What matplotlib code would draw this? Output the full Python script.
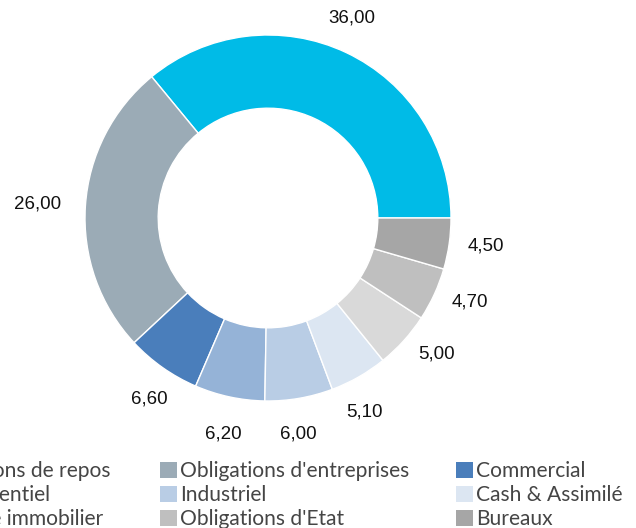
import numpy as np
import matplotlib
matplotlib.use('Agg')
import matplotlib.pyplot as plt
from matplotlib.patches import Patch

categories = ['Maisons de repos', "Obligations d'entreprises", 'Commercial',
              'Résidentiel', 'Industriel', 'Cash & Assimilé',
              'Autre immobilier', "Obligations d'Etat", 'Bureaux']
values = [36.0, 26.0, 6.6, 6.2, 6.0, 5.1, 5.0, 4.7, 4.5]
value_labels = ['36,00', '26,00', '6,60', '6,20', '6,00', '5,10', '5,00', '4,70', '4,50']
colors = ['#00BBE7', '#9BABB6', '#4A7EBB', '#95B3D7', '#B9CDE5',
          '#DCE6F2', '#D9D9D9', '#BFBFBF', '#A6A6A6']

# label placement tweaks (radius factor, angle nudge in degrees)
label_dist = [1.185, 1.26, 1.185, 1.205, 1.193, 1.183, 1.182, 1.193, 1.20]
label_nudge = [2.4, 0.4, 1.9, 0.4, -1.7, -3.2, 3.2, 2.0, 0.8]

W, H = 636, 528
fig = plt.figure(figsize=(W / 100, H / 100), dpi=100)
cx, cy, r = 268, 218, 183
ax = fig.add_axes([(cx - r) / W, (H - cy - r) / H, 2 * r / W, 2 * r / H])

wedges, _ = ax.pie(values, colors=colors, startangle=0, counterclock=True,
                   radius=1, wedgeprops=dict(width=0.4, edgecolor='white', linewidth=1))
ax.set_xlim(-1, 1)
ax.set_ylim(-1, 1)
ax.set_aspect('equal')

# value labels outside the ring
for i, w in enumerate(wedges):
    ang = np.deg2rad((w.theta1 + w.theta2) / 2 + label_nudge[i])
    d = label_dist[i]
    ax.text(d * np.cos(ang), d * np.sin(ang), value_labels[i], ha='center', va='center',
            fontsize=13.5, family='Liberation Sans', color='#111111', clip_on=False)

# legend: three columns, read row by row in the reference
legend_kw = dict(frameon=False, borderpad=0, borderaxespad=0, handlelength=0.82,
                 handleheight=0.78, handletextpad=0.15, labelspacing=0.2,
                 prop=dict(family='Lato', size=15.1), labelcolor='#454545')
col_x = [(111, 'upper right'), (160, 'upper left'), (456, 'upper left')]
top = 461
for c in range(3):
    idx = [c, c + 3, c + 6]
    handles = [Patch(facecolor=colors[i], edgecolor='none') for i in idx]
    x, loc = col_x[c]
    fig.legend(handles, [categories[i] for i in idx], loc=loc,
               bbox_to_anchor=(x / W, 1 - top / H), **legend_kw)

fig.savefig('out.png', dpi=100)
